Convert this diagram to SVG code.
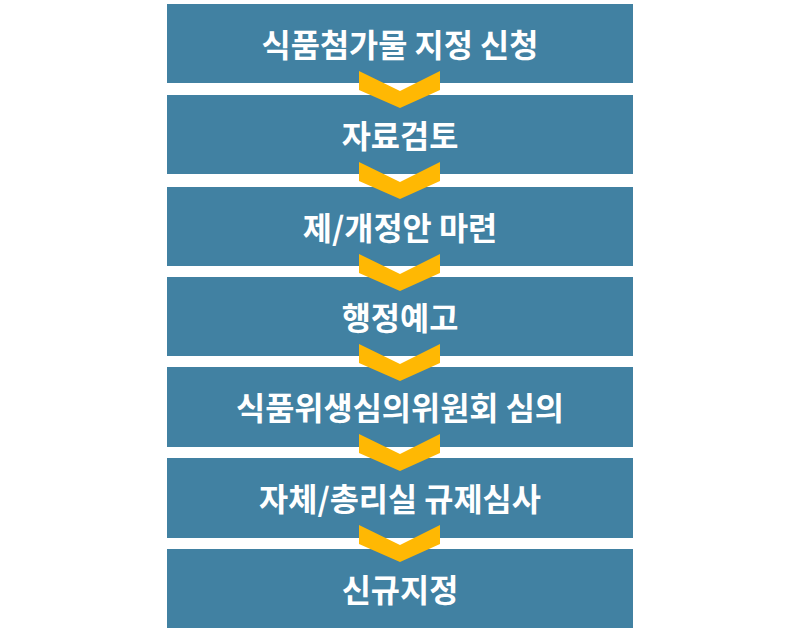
<svg xmlns="http://www.w3.org/2000/svg" width="800" height="630" viewBox="0 0 800 630">
<style>
.box{fill:#4181A2}
.lbl{fill:#ffffff;font-family:"Noto Sans CJK KR","Noto Sans",sans-serif;font-weight:bold;font-size:31.7px;text-anchor:middle}
.chev{fill:#FFB803}
</style>
<defs>
<polygon id="chevron" class="chev" points="359,0 400,20 440,0 440,19 400,37 359,19"/>
</defs>
<rect width="800" height="630" fill="#ffffff"/>
<g id="n1"><rect class="box" x="167" y="4" width="466" height="79"/><text class="lbl" x="400" y="57">식품첨가물 지정 신청</text></g>
<g id="n2"><rect class="box" x="167" y="95" width="466" height="79"/><text class="lbl" x="400" y="148">자료검토</text></g>
<g id="n3"><rect class="box" x="167" y="187" width="466" height="79"/><text class="lbl" x="400" y="240">제/개정안 마련</text></g>
<g id="n4"><rect class="box" x="167" y="277" width="466" height="79"/><text class="lbl" x="400" y="330">행정예고</text></g>
<g id="n5"><rect class="box" x="167" y="367" width="466" height="80"/><text class="lbl" x="400" y="420">식품위생심의위원회 심의</text></g>
<g id="n6"><rect class="box" x="167" y="458" width="466" height="80"/><text class="lbl" x="400" y="511">자체/총리실 규제심사</text></g>
<g id="n7"><rect class="box" x="167" y="549" width="466" height="79"/><text class="lbl" x="400" y="602">신규지정</text></g>
<g id="connectors">
<use href="#chevron" y="71"/>
<use href="#chevron" y="162"/>
<use href="#chevron" y="254"/>
<use href="#chevron" y="344"/>
<use href="#chevron" y="434"/>
<use href="#chevron" y="525"/>
</g>
</svg>
